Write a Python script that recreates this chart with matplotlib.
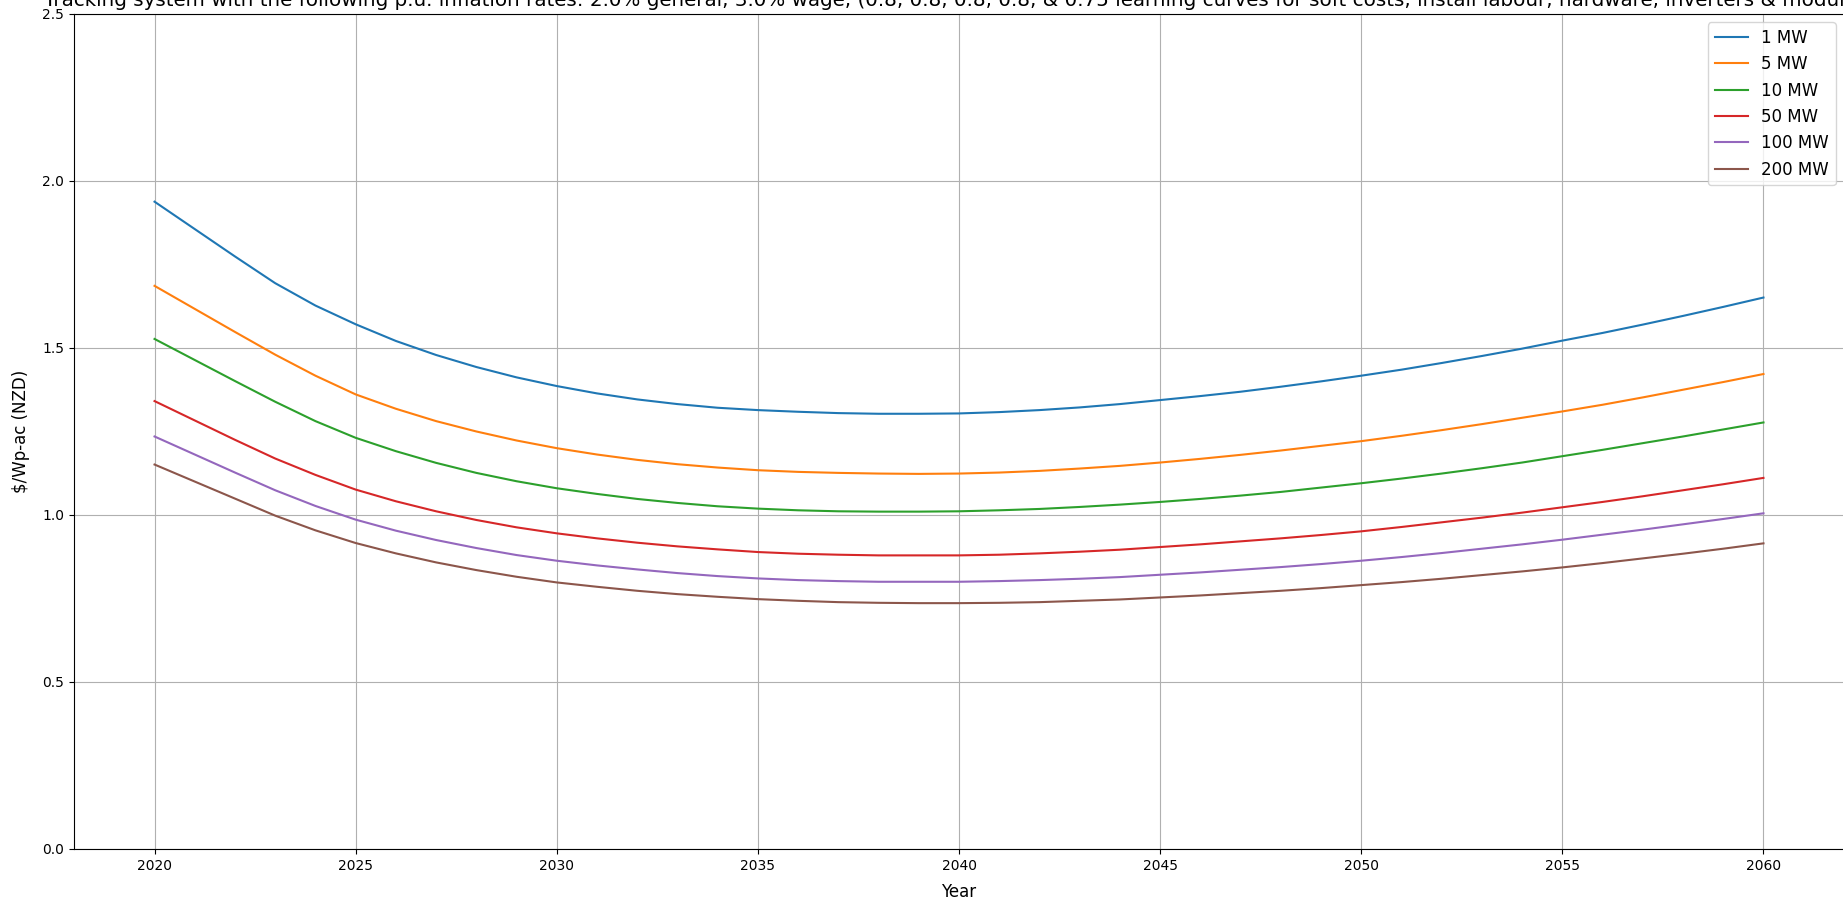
import matplotlib
matplotlib.use("Agg")
import matplotlib.pyplot as plt
import numpy as np

years = np.arange(2020, 2061)

# $/Wp-ac by plant size, one value per year 2020-2060
mw_1 = [1.938, 1.856, 1.774, 1.694, 1.627, 1.571, 1.521, 1.479, 1.443, 1.412,
        1.386, 1.364, 1.346, 1.332, 1.321, 1.314, 1.309, 1.305, 1.303, 1.303,
        1.304, 1.308, 1.314, 1.322, 1.332, 1.344, 1.356, 1.369, 1.384, 1.400,
        1.417, 1.435, 1.455, 1.476, 1.498, 1.522, 1.545, 1.570, 1.596, 1.623,
        1.651]
mw_5 = [1.686, 1.617, 1.548, 1.480, 1.417, 1.361, 1.318, 1.281, 1.250, 1.223,
        1.200, 1.181, 1.165, 1.152, 1.142, 1.134, 1.129, 1.126, 1.124, 1.123,
        1.124, 1.127, 1.132, 1.139, 1.147, 1.157, 1.168, 1.180, 1.193, 1.207,
        1.221, 1.237, 1.254, 1.272, 1.291, 1.310, 1.330, 1.352, 1.375, 1.398,
        1.422]
mw_10 = [1.527, 1.464, 1.401, 1.339, 1.281, 1.231, 1.191, 1.156, 1.126, 1.101,
         1.080, 1.063, 1.048, 1.036, 1.026, 1.019, 1.014, 1.011, 1.010, 1.010,
         1.011, 1.014, 1.018, 1.024, 1.031, 1.039, 1.048, 1.058, 1.069, 1.082,
         1.095, 1.109, 1.124, 1.140, 1.157, 1.176, 1.195, 1.215, 1.235, 1.256,
         1.277]
mw_50 = [1.341, 1.283, 1.225, 1.169, 1.120, 1.076, 1.041, 1.011, 0.985, 0.963,
         0.945, 0.930, 0.917, 0.906, 0.897, 0.889, 0.884, 0.881, 0.879, 0.879,
         0.879, 0.881, 0.885, 0.890, 0.896, 0.904, 0.912, 0.921, 0.930, 0.940,
         0.951, 0.964, 0.978, 0.992, 1.007, 1.023, 1.039, 1.056, 1.074, 1.092,
         1.111]
mw_100 = [1.235, 1.181, 1.127, 1.074, 1.027, 0.986, 0.953, 0.925, 0.901, 0.880,
          0.863, 0.849, 0.837, 0.826, 0.817, 0.810, 0.805, 0.802, 0.800, 0.800,
          0.800, 0.802, 0.805, 0.809, 0.814, 0.821, 0.828, 0.836, 0.844, 0.853,
          0.863, 0.874, 0.886, 0.899, 0.912, 0.926, 0.941, 0.956, 0.972, 0.988,
          1.005]
mw_200 = [1.151, 1.100, 1.049, 0.998, 0.954, 0.916, 0.885, 0.858, 0.835, 0.815,
          0.798, 0.785, 0.773, 0.763, 0.755, 0.748, 0.743, 0.739, 0.737, 0.736,
          0.736, 0.737, 0.739, 0.743, 0.747, 0.753, 0.759, 0.766, 0.773, 0.781,
          0.790, 0.799, 0.809, 0.820, 0.831, 0.843, 0.856, 0.870, 0.884, 0.899,
          0.915]

labels = ["1 MW", "5 MW", "10 MW", "50 MW", "100 MW", "200 MW"]
series = [mw_1, mw_5, mw_10, mw_50, mw_100, mw_200]

fig = plt.figure(figsize=(18.43, 9.02), dpi=100)
ax = fig.add_axes([0.0402, 0.0588, 0.9603, 0.9257])

for vals, lab in zip(series, labels):
    ax.plot(years, vals, label=lab)

ax.set_ylim(0, 2.5)
ax.set_xlabel("Year", fontsize=12, labelpad=7.5)
ax.set_ylabel("$/Wp-ac (NZD)", fontsize=12, labelpad=9)
ax.set_title("Tracking system with the following p.u. inflation rates: 2.0% general, 3.0% wage, "
             "(0.8, 0.8, 0.8, 0.8, & 0.75 learning curves for soft costs, install labour, "
             "hardware, inverters & modules)", fontsize=14.3)
ax.grid(True)
ax.legend(loc="upper right", fontsize=12)

fig.savefig("out.png", dpi=100)
